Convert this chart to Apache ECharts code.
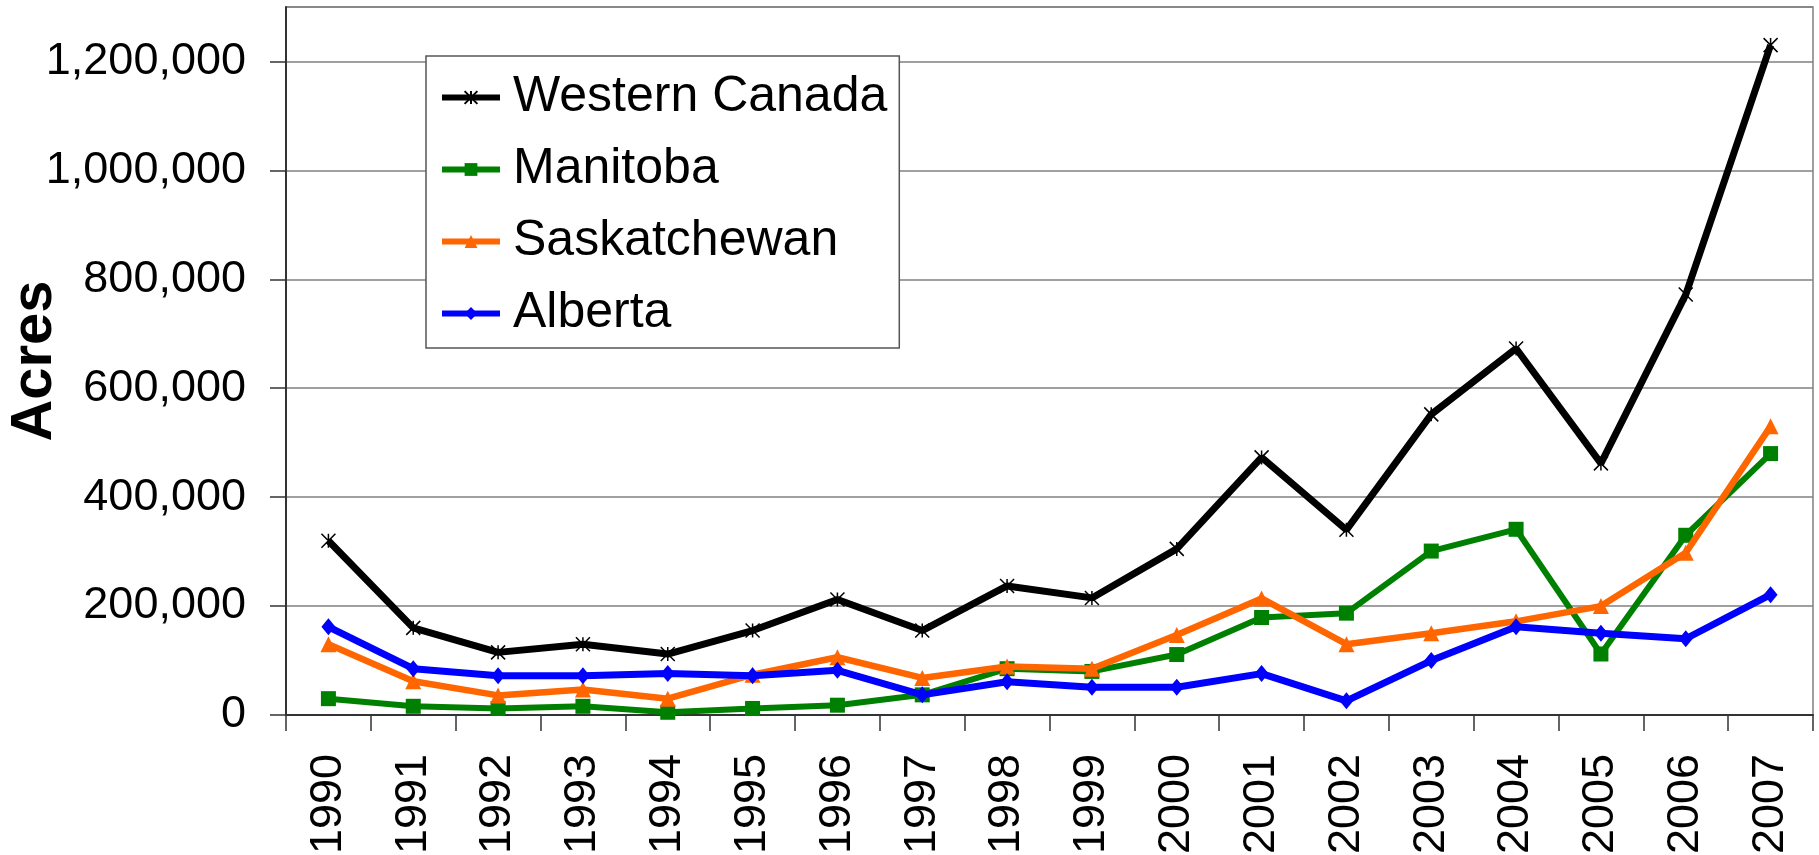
<!DOCTYPE html>
<html>
<head>
<meta charset="utf-8">
<script src="https://cdn.jsdelivr.net/npm/echarts@6/dist/echarts.min.js"></script>
<style>
  html, body { margin: 0; padding: 0; background: #fff; }
  #chart { width: 1819px; height: 855px; }
</style>
</head>
<body>
<div id="chart"></div>
<script>
// categories
const years = ['1990', '1991', '1992', '1993', '1994', '1995', '1996', '1997', '1998',
  '1999', '2000', '2001', '2002', '2003', '2004', '2005', '2006', '2007']

// series values (acres)
const westernCanada = [320000, 160000, 115000, 130000, 112000, 155000, 212000, 155000, 237000,
  215000, 305000, 473000, 340000, 552000, 673000, 462000, 772000, 1230000]
const manitoba = [30000, 16000, 12000, 16000, 5000, 12000, 18000, 37000, 85000,
  80000, 111000, 179000, 187000, 301000, 341000, 112000, 330000, 480000]
const saskatchewan = [130000, 62000, 36000, 47000, 30000, 74000, 106000, 68000, 89000,
  85000, 147000, 214000, 130000, 150000, 172000, 200000, 298000, 530000]
const alberta = [162000, 85000, 72000, 72000, 76000, 72000, 82000, 37000, 61000,
  51000, 51000, 76000, 26000, 100000, 162000, 150000, 140000, 221000]

const FONT = 'Liberation Sans, Arial, sans-serif'
const STAR = 'path://M0,0L10,10M10,0L0,10M5,0L5,10'

const chart = echarts.init(document.getElementById('chart'))

const option = {
  animation: false,
  backgroundColor: '#fff',
  textStyle: { fontFamily: FONT },
  grid: {
    left: 286,
    right: 6,
    top: 7,
    bottom: 140,
    containLabel: false,
    outerBoundsMode: 'none',
    show: true,
    borderColor: '#808080',
    borderWidth: 1.5
  },
  legend: {
    orient: 'vertical',
    left: 426,
    top: 56,
    backgroundColor: '#fff',
    borderColor: '#555',
    borderWidth: 1.5,
    borderRadius: 0,
    padding: [11, 12, 4, 13],
    itemWidth: 58,
    itemHeight: 16,
    itemGap: 11,
    lineStyle: { width: 6 },
    textStyle: {
      fontFamily: FONT,
      fontSize: 50,
      color: '#000',
      lineHeight: 61,
      padding: [0, 0, 0, 8]
    },
    data: ['Western Canada', 'Manitoba', 'Saskatchewan', 'Alberta']
  },
  xAxis: {
    type: 'category',
    data: years,
    boundaryGap: true,
    axisLine: { lineStyle: { color: '#333', width: 2 } },
    axisTick: { show: true, length: 16, lineStyle: { color: '#333', width: 1.5 } },
    axisLabel: {
      rotate: 90,
      margin: 39,
      fontSize: 45,
      color: '#000',
      fontFamily: FONT
    },
    splitLine: { show: false }
  },
  yAxis: {
    type: 'value',
    min: 0,
    max: 1300000,
    interval: 200000,
    name: 'Acres',
    nameLocation: 'middle',
    nameRotate: 90,
    nameGap: 222,
    nameMoveOverlap: false,
    nameTextStyle: { fontSize: 58, fontWeight: 'bold', color: '#000', fontFamily: FONT },
    axisLine: { show: true, lineStyle: { color: '#333', width: 2 } },
    axisTick: { show: true, length: 16, lineStyle: { color: '#333', width: 1.5 } },
    axisLabel: {
      margin: 40,
      fontSize: 45,
      color: '#000',
      fontFamily: FONT,
      showMaxLabel: false,
      formatter: (v) => v.toLocaleString('en-US')
    },
    splitLine: { show: true, lineStyle: { color: '#808080', width: 1.5 } }
  },
  series: [
    {
      name: 'Western Canada',
      type: 'line',
      data: westernCanada,
      symbol: STAR,
      symbolSize: 14,
      itemStyle: { color: '#000', borderColor: '#000', borderWidth: 1.5 },
      lineStyle: { color: '#000', width: 7 },
      z: 5
    },
    {
      name: 'Manitoba',
      type: 'line',
      data: manitoba,
      symbol: 'rect',
      symbolSize: 15,
      itemStyle: { color: '#008000' },
      lineStyle: { color: '#008000', width: 6 },
      z: 2
    },
    {
      name: 'Saskatchewan',
      type: 'line',
      data: saskatchewan,
      symbol: 'triangle',
      symbolSize: 16,
      itemStyle: { color: '#FF6600' },
      lineStyle: { color: '#FF6600', width: 6.5 },
      z: 3
    },
    {
      name: 'Alberta',
      type: 'line',
      data: alberta,
      symbol: 'diamond',
      symbolSize: [14, 17],
      itemStyle: { color: '#0000FF' },
      lineStyle: { color: '#0000FF', width: 7 },
      z: 4
    }
  ]
}

chart.setOption(option)
</script>
</body>
</html>
